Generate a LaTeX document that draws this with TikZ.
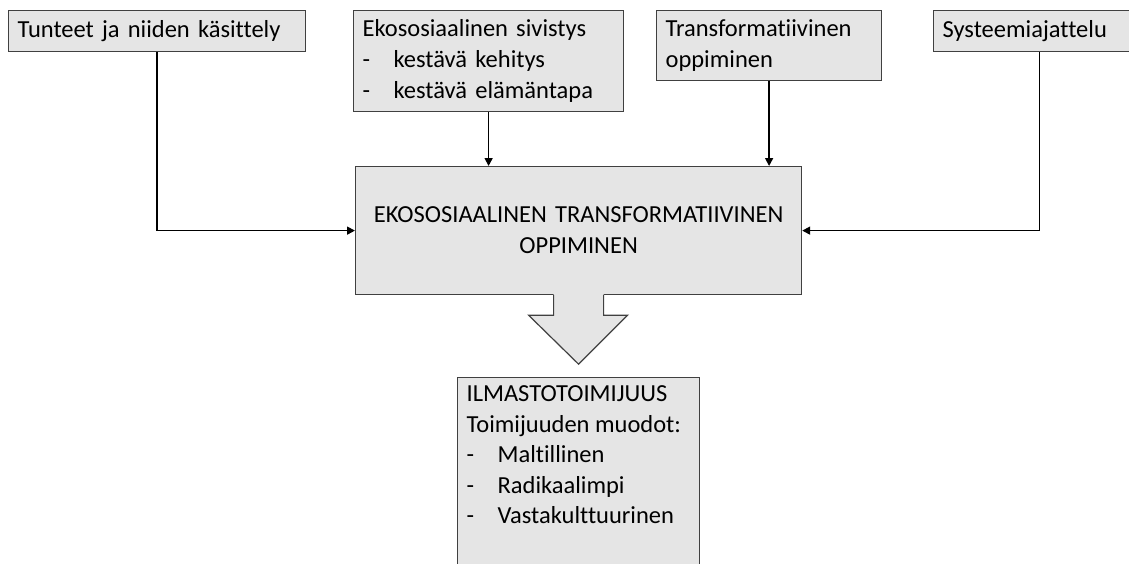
\documentclass[tikz,border=0pt]{standalone}
\usepackage{fontspec}
\setmainfont{Carlito}[Ligatures=NoCommon]
\usetikzlibrary{positioning,arrows.meta}

\tikzset{
  boxline/.style={draw=black!75,line width=1.2pt},
  topbox/.style={boxline,fill=black!10,anchor=north west,align=left,inner xsep=9pt,
    font=\fontsize{24.5}{31}\selectfont},
  conn/.style={line width=1.6pt,-{Triangle[length=8pt,width=8pt]}},
}
\newcommand{\listdash}{\makebox[31pt][l]{-}}

\begin{document}
\begin{tikzpicture}[x=1pt,y=-1pt]
  \useasboundingbox (0,0) rectangle (1129,563);

  % upper row
  \node[topbox,text width=279pt,minimum height=41pt] (tunteet) at (8,10) {Tunteet ja niiden käsittely};
  \node[topbox,text width=252pt,minimum height=101pt] (sivistys) at (353,10)
    {Ekososiaalinen sivistys\\ \listdash kestävä kehitys\\ \listdash kestävä elämäntapa};
  \node[topbox,text width=207pt,minimum height=70pt] (transf) at (656,10)
    {Transformatiivinen\\ oppiminen};
  \node[topbox,text width=186pt,minimum height=41pt] (systeemi) at (933,10) {Systeemiajattelu};

  % centre box
  \node[topbox,align=center,text width=428pt,minimum height=128pt] (oppiminen) at (355,166)
    {EKOSOSIAALINEN TRANSFORMATIIVINEN\\ OPPIMINEN};

  \draw[conn] (tunteet.south) |- (oppiminen.west);
  \draw[conn] (sivistys.south) -- (sivistys.south |- oppiminen.north);
  \draw[conn] (transf.south) -- (transf.south |- oppiminen.north);
  \draw[conn] ([xshift=4pt]systeemi.south) |- (oppiminen.east);

  % block arrow down
  \path[fill=black!10] ([xshift=-25pt,yshift=2pt]oppiminen.south) -- ++(0,22) -- ++(-25,0)
    -- ++(50,49) -- ++(49,-49) -- ++(-24,0) -- ++(0,-22) -- cycle;
  \draw[boxline,line join=miter] ([xshift=-25pt]oppiminen.south) -- ++(0,20) -- ++(-25,0)
    -- ++(50,49) -- ++(49,-49) -- ++(-24,0) -- ++(0,-20);

  % lower box
  \node[topbox,inner ysep=8pt] (toimijuus) at (457,377)
    {\parbox[t][205pt][t]{224pt}{\fontsize{24.5}{30.5}\selectfont ILMASTOTOIMIJUUS\\ Toimijuuden muodot:\\
      \listdash Maltillinen\\ \listdash Radikaalimpi\\ \listdash Vastakulttuurinen}};
\end{tikzpicture}
\end{document}
